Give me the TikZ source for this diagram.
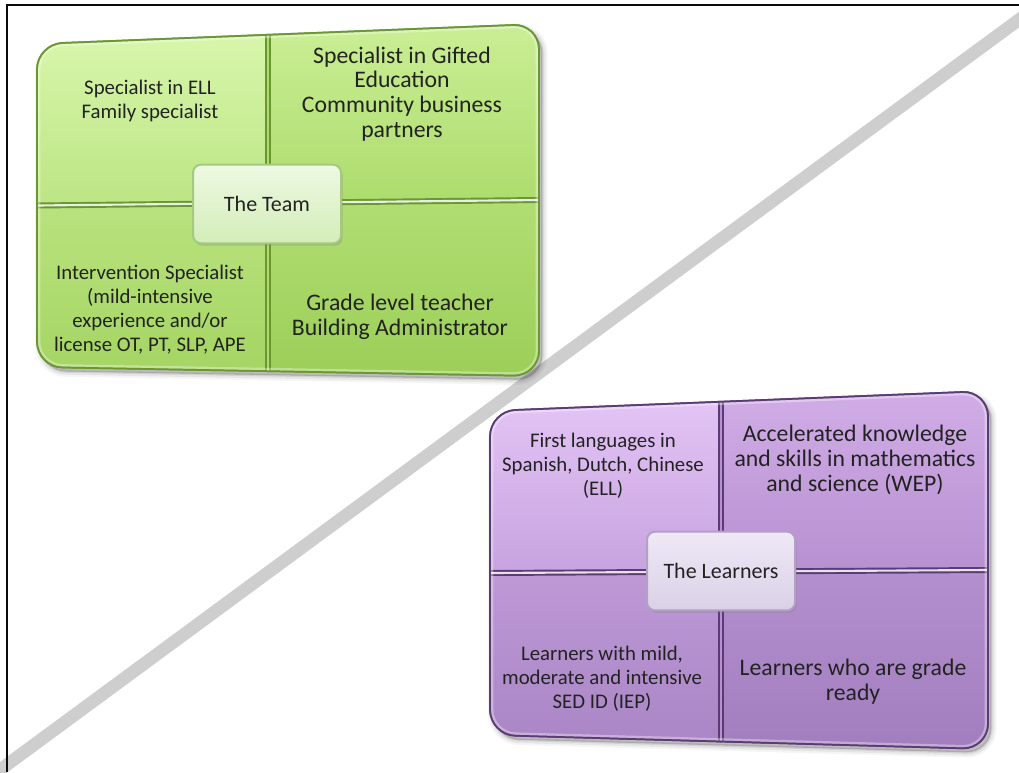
\documentclass[tikz,border=0pt]{standalone}
\usepackage{fontspec}
\setmainfont{Carlito}
\usetikzlibrary{calc,shadows}

\definecolor{inkdark}{HTML}{222222}
\definecolor{rulegray}{HTML}{CECECE}
\definecolor{frameblack}{HTML}{0A0A0A}
% green block
\definecolor{gEdge}{HTML}{6A9732}
\definecolor{gA1}{HTML}{D8F6AB}\definecolor{gA2}{HTML}{BCE584}
\definecolor{gB1}{HTML}{CAEE95}\definecolor{gB2}{HTML}{ADDC6D}
\definecolor{gC1}{HTML}{B9E37E}\definecolor{gC2}{HTML}{A5D564}
\definecolor{gD1}{HTML}{B1DE73}\definecolor{gD2}{HTML}{9CCE58}
\definecolor{gBox1}{HTML}{EEF9E3}\definecolor{gBox2}{HTML}{D3EDB8}\definecolor{gBoxEdge}{HTML}{A4CA80}
% purple block
\definecolor{pEdge}{HTML}{5A3B74}
\definecolor{pA1}{HTML}{E3C4F5}\definecolor{pA2}{HTML}{C7A3DF}
\definecolor{pB1}{HTML}{D1ADE7}\definecolor{pB2}{HTML}{B690D0}
\definecolor{pC1}{HTML}{BE99D6}\definecolor{pC2}{HTML}{AB86C6}
\definecolor{pD1}{HTML}{B48FCE}\definecolor{pD2}{HTML}{A27EBF}
\definecolor{pBox1}{HTML}{EFE9F6}\definecolor{pBox2}{HTML}{DAD0E7}\definecolor{pBoxEdge}{HTML}{B2A0C6}

% Four-panel block on the quadrilateral #1-tl, #1-tr, #1-br, #1-bl;
% #2 = colour prefix, #3 = position of the vertical split
\newcommand\gridpanels[3]{%
  \coordinate (#1-t) at ($(#1-tl)!#3!(#1-tr)$);
  \coordinate (#1-b) at ($(#1-bl)!#3!(#1-br)$);
  \coordinate (#1-l) at ($(#1-tl)!0.5!(#1-bl)$);
  \coordinate (#1-r) at ($(#1-tr)!0.5!(#1-br)$);
  \coordinate (#1-c) at ($(#1-t)!0.5!(#1-b)$);
  \coordinate (#1-tl1) at ($(#1-tl)!19pt!(#1-t)$);
  \coordinate (#1-tl2) at ($(#1-tl)!19pt!(#1-l)$);
  \coordinate (#1-tr1) at ($(#1-tr)!19pt!(#1-t)$);
  \coordinate (#1-tr2) at ($(#1-tr)!19pt!(#1-r)$);
  \coordinate (#1-br1) at ($(#1-br)!19pt!(#1-r)$);
  \coordinate (#1-br2) at ($(#1-br)!19pt!(#1-b)$);
  \coordinate (#1-bl1) at ($(#1-bl)!19pt!(#1-b)$);
  \coordinate (#1-bl2) at ($(#1-bl)!19pt!(#1-l)$);
  % outline of the whole block
  \path[save path=\blockrim]
      (#1-tl1) -- (#1-tr1)
      .. controls ($(#1-tr1)!0.55!(#1-tr)$) and ($(#1-tr2)!0.55!(#1-tr)$) .. (#1-tr2)
      -- (#1-br1)
      .. controls ($(#1-br1)!0.55!(#1-br)$) and ($(#1-br2)!0.55!(#1-br)$) .. (#1-br2)
      -- (#1-bl1)
      .. controls ($(#1-bl1)!0.55!(#1-bl)$) and ($(#1-bl2)!0.55!(#1-bl)$) .. (#1-bl2)
      -- (#1-tl2)
      .. controls ($(#1-tl2)!0.55!(#1-tl)$) and ($(#1-tl1)!0.55!(#1-tl)$) .. (#1-tl1) -- cycle;
  % soft shadow under the block
  \foreach \w/\o in {8/0.04,5/0.06,2/0.09}{
    \path[use path=\blockrim, fill=black, draw=black, line width=\w pt, opacity=\o,
          transform canvas={shift={(2.5pt,-3pt)}}];
  }
  % the four panels
  \path[draw=#2Edge, line width=1.3pt, top color=#2A1, bottom color=#2A2]
    (#1-c) -- (#1-t) -- (#1-tl1)
    .. controls ($(#1-tl1)!0.55!(#1-tl)$) and ($(#1-tl2)!0.55!(#1-tl)$) .. (#1-tl2)
    -- (#1-l) -- cycle;
  \path[draw=#2Edge, line width=1.3pt, top color=#2B1, bottom color=#2B2]
    (#1-c) -- (#1-r) -- (#1-tr2)
    .. controls ($(#1-tr2)!0.55!(#1-tr)$) and ($(#1-tr1)!0.55!(#1-tr)$) .. (#1-tr1)
    -- (#1-t) -- cycle;
  \path[draw=#2Edge, line width=1.3pt, top color=#2D1, bottom color=#2D2]
    (#1-c) -- (#1-b) -- (#1-br2)
    .. controls ($(#1-br2)!0.55!(#1-br)$) and ($(#1-br1)!0.55!(#1-br)$) .. (#1-br1)
    -- (#1-r) -- cycle;
  \path[draw=#2Edge, line width=1.3pt, top color=#2C1, bottom color=#2C2]
    (#1-c) -- (#1-l) -- (#1-bl2)
    .. controls ($(#1-bl2)!0.55!(#1-bl)$) and ($(#1-bl1)!0.55!(#1-bl)$) .. (#1-bl1)
    -- (#1-b) -- cycle;
  % dividers between the panels
  \draw[#2Edge, line width=4pt] (#1-t) -- (#1-b);
  \draw[#2B2, line width=1.2pt] (#1-t) -- (#1-b);
  \draw[#2Edge, line width=4.5pt] (#1-l) -- (#1-c) -- (#1-r);
  \draw[white, opacity=.85, line width=1.6pt] (#1-l) -- (#1-c) -- (#1-r);
  % bevel: light rim just inside the outline, then the dark edge again
  \begin{scope}
    \clip[use path=\blockrim];
    \draw[use path=\blockrim, white, opacity=.35, line width=5pt];
  \end{scope}
  \draw[use path=\blockrim, #2Edge, line width=1.3pt];
}

\tikzset{
  cellsmall/.style={align=center, text=inkdark, font=\fontsize{15.6}{18}\selectfont},
  cellbig/.style={align=center, text=inkdark, font=\fontsize{17.8}{18.6}\selectfont},
  hubbox/.style={rounded corners=6pt, line width=1.5pt, minimum width=111pt,
    minimum height=59pt, text=inkdark, font=\fontsize{16.5}{20}\selectfont,
    drop shadow={shadow xshift=1.2pt, shadow yshift=-1.8pt, opacity=.35}},
  teamhub/.style={hubbox, draw=gBoxEdge, top color=gBox1, bottom color=gBox2},
  learnhub/.style={hubbox, draw=pBoxEdge, top color=pBox1, bottom color=pBox2},
}

\begin{document}
\begin{tikzpicture}[x=0.75pt, y=-0.75pt]
\useasboundingbox (0,0) rectangle (1019,772);
\fill[white] (0,0) rectangle (1019,772);

% diagonal separator
\coordinate (diagA) at (-5,773.5);
\coordinate (diagB) at (1030,11.5);
\draw[rulegray, line width=9.5pt] (diagA) -- (diagB);

% frame (top and left edges)
\coordinate (frBL) at (7,772);
\coordinate (frTL) at (7,5);
\coordinate (frTR) at (1019,5);
\draw[frameblack, line width=2.2pt] (frBL) -- (frTL) -- (frTR);

% ---- The Team ----
\coordinate (tm-tl) at (37,44);
\coordinate (tm-tr) at (539,24);
\coordinate (tm-br) at (539,376);
\coordinate (tm-bl) at (37,367);
\gridpanels{tm}{g}{0.46}

\node[cellsmall] (tmA) at (150,101) {Specialist in ELL\\Family specialist};
\node[cellbig] (tmB) at (402,94) {Specialist in Gifted\\Education\\Community business\\partners};
\node[cellsmall] (tmC) at (150,310) {Intervention Specialist\\(mild-intensive\\experience and/or\\license OT, PT, SLP, APE};
\node[cellbig] (tmD) at (400,317) {Grade level teacher\\Building Administrator};
\node[teamhub] (team) at (267,204) {The Team};

% ---- The Learners ----
\coordinate (ln-tl) at (490,411);
\coordinate (ln-tr) at (988,391);
\coordinate (ln-br) at (988,749);
\coordinate (ln-bl) at (490,735);
\gridpanels{ln}{p}{0.464}

\node[cellsmall] (lnA) at (603,466) {First languages in\\Spanish, Dutch, Chinese\\(ELL)};
\node[cellbig] (lnB) at (855,460) {Accelerated knowledge\\and skills in mathematics\\and science (WEP)};
\node[cellsmall] (lnC) at (602,679) {Learners with mild,\\moderate and intensive\\SED ID (IEP)};
\node[cellbig] (lnD) at (853,682) {Learners who are grade\\ready};
\node[learnhub] (learn) at (721,571) {The Learners};
\end{tikzpicture}
\end{document}
